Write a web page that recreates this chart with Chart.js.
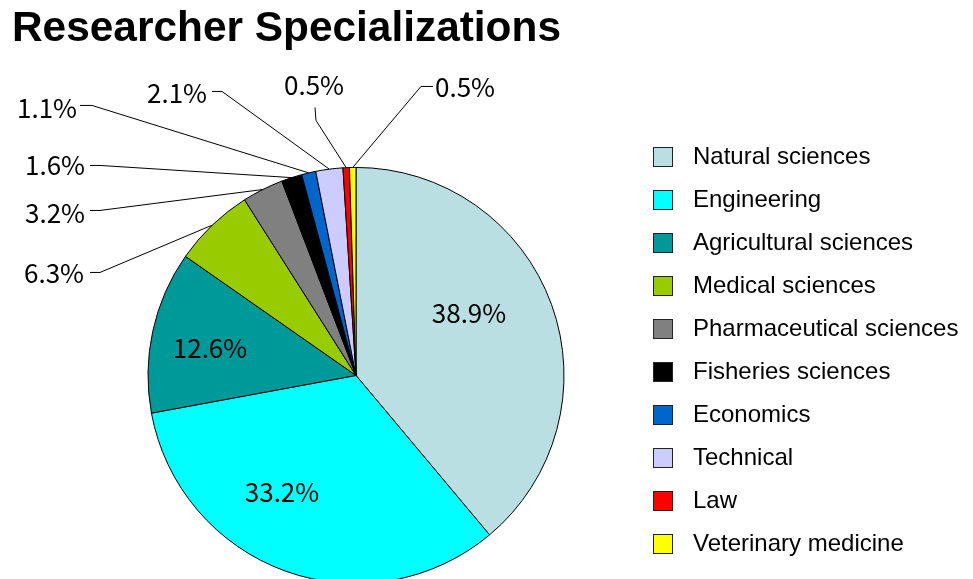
<!DOCTYPE html>
<html lang="en">
<head>
  <meta charset="UTF-8">
  <title>Researcher Specializations</title>
  <script src="https://cdn.jsdelivr.net/npm/chart.js"></script>
  <style>
    html, body { margin: 0; padding: 0; background: #fff; overflow: hidden; }
  </style>
</head>
<body>
  <canvas id="myChart" width="973" height="579"></canvas>

  <script>
    // data (percent)
    const labels = ['Natural sciences', 'Engineering', 'Agricultural sciences', 'Medical sciences',
      'Pharmaceutical sciences', 'Fisheries sciences', 'Economics', 'Technical', 'Law', 'Veterinary medicine'];
    const values = [38.9, 33.2, 12.6, 6.3, 3.2, 1.6, 1.1, 2.1, 0.5, 0.5];
    const colors = ['#B9DFE2', '#00FFFF', '#009999', '#99CC00', '#808080',
      '#000000', '#0066CC', '#CCCCFF', '#FF0000', '#FFFF00'];

    // label placement, px offsets from pie centre: text centre, then optional leader (elbow, end)
    const labelLayout = [
      { t: [113, -62] },
      { t: [-74, 117] },
      { t: [-146, -27] },
      { t: [-302, -102], elbow: [-256, -103], end: [-266, -103] },
      { t: [-301, -162], elbow: [-256, -165], end: [-266, -165] },
      { t: [-301, -210], elbow: [-256, -210], end: [-266, -210] },
      { t: [-309, -267], elbow: [-264, -270], end: [-276, -270] },
      { t: [-179, -282], elbow: [-134, -284], end: [-144, -284] },
      { t: [-42, -290], elbow: [-40, -255], end: [-41, -268] },
      { t: [109, -288], elbow: [65, -289], end: [77, -289] }
    ];

    // percentage labels + leader lines
    const pieLabels = {
      id: 'pieLabels',
      afterDatasetsDraw(chart) {
        const ctx = chart.ctx;
        const arcs = chart.getDatasetMeta(0).data;
        ctx.save();
        ctx.strokeStyle = '#000';
        ctx.lineWidth = 1;
        ctx.fillStyle = '#000';
        ctx.font = '26px "Noto Sans CJK JP", "Liberation Sans", sans-serif';
        ctx.textAlign = 'center';
        ctx.textBaseline = 'middle';
        arcs.forEach((arc, i) => {
          const p = arc.getProps(['x', 'y', 'startAngle', 'endAngle', 'outerRadius']);
          const lay = labelLayout[i];
          if (lay.elbow) {
            const mid = (p.startAngle + p.endAngle) / 2;
            ctx.beginPath();
            ctx.moveTo(p.x + p.outerRadius * Math.cos(mid), p.y + p.outerRadius * Math.sin(mid));
            ctx.lineTo(p.x + lay.elbow[0], p.y + lay.elbow[1]);
            ctx.lineTo(p.x + lay.end[0], p.y + lay.end[1]);
            ctx.stroke();
          }
          ctx.fillText(values[i].toFixed(1) + '%', p.x + lay.t[0], p.y + lay.t[1]);
        });
        ctx.restore();
      }
    };

    // legend on the right, square swatches with thin border
    const sideLegend = {
      id: 'sideLegend',
      afterDraw(chart) {
        const ctx = chart.ctx;
        ctx.save();
        ctx.font = '24px "Liberation Sans", Arial, sans-serif';
        ctx.textBaseline = 'middle';
        ctx.textAlign = 'left';
        labels.forEach((lab, i) => {
          const y = 147 + i * 43;
          ctx.fillStyle = colors[i];
          ctx.fillRect(653.5, y + 0.5, 19, 19);
          ctx.strokeStyle = '#222';
          ctx.lineWidth = 1;
          ctx.strokeRect(653.5, y + 0.5, 19, 19);
          ctx.fillStyle = '#000';
          ctx.fillText(lab, 693, y + 10);
        });
        ctx.restore();
      }
    };

    const ctx = document.getElementById('myChart').getContext('2d');
    const myChart = new Chart(ctx, {
      type: 'pie',
      data: {
        labels: labels,
        datasets: [{
          data: values,
          backgroundColor: colors,
          borderColor: '#000',
          borderWidth: 1,
          radius: 208,
          clip: false
        }]
      },
      options: {
        responsive: false,
        animation: false,
        devicePixelRatio: 1,
        layout: { padding: { left: 12, right: 273, top: 0, bottom: 0 } },
        plugins: {
          legend: { display: false },
          tooltip: { enabled: false },
          title: {
            display: true,
            text: 'Researcher Specializations',
            align: 'start',
            color: '#000',
            font: { family: '"Liberation Sans", Arial, sans-serif', size: 42.4, weight: 'bold', lineHeight: 1.2 },
            padding: { top: 4, bottom: 117 }
          }
        }
      },
      plugins: [pieLabels, sideLegend]
    });
  </script>
</body>
</html>
